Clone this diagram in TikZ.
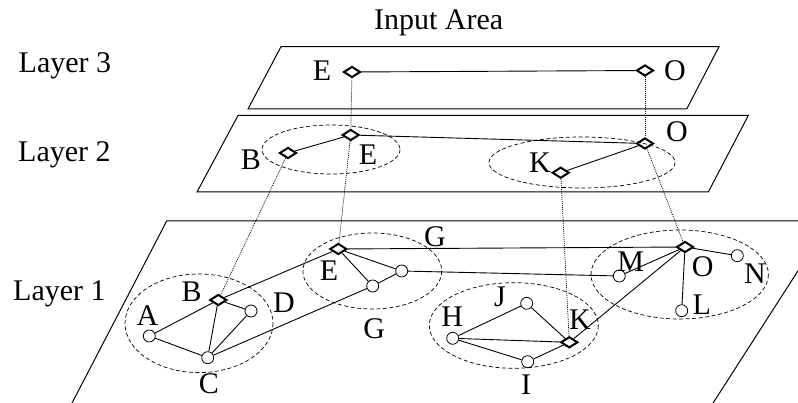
\documentclass[tikz,border=0pt]{standalone}
\usepackage{fontspec}
\setmainfont{Liberation Serif}
\usetikzlibrary{shapes.geometric}
\begin{document}
\begin{tikzpicture}[x=1pt,y=-1pt,
  every node/.style={font=\fontsize{30}{35}\selectfont, inner sep=0pt},
  dnode/.style={draw, diamond, line width=2pt, minimum width=17pt, minimum height=11pt, inner sep=0pt},
  cnode/.style={draw, circle, line width=0.8pt, minimum size=12pt, inner sep=0pt},
  edge/.style={line width=0.9pt},
  link/.style={line width=0.7pt, dash pattern=on 1pt off 1pt},
  group/.style={line width=0.7pt, dash pattern=on 4pt off 2.5pt},
  layer/.style={line width=1pt}]
\useasboundingbox (0,0) rectangle (798,403);

% layers
\draw[layer] (281,46.7) -- (719,46.7) -- (686.7,109) -- (248,109) -- cycle;
\draw[layer] (238,115.5) -- (748.3,115.5) -- (708.3,192) -- (197,192) -- cycle;
\begin{scope}
\clip (0,0) rectangle (798,403);
\draw[layer] (166.7,221) -- (830,221) -- (708.6,410) -- (68.4,410) -- cycle;
\end{scope}

% layer labels
\node[anchor=base west] (t3) at (18.5,72.3) {Layer 3};
\node[anchor=base west] (t2) at (18,161.7) {Layer 2};
\node[anchor=base west] (t1) at (13,300.8) {Layer 1};
\node (inp) at (438.7,22.5) {Input Area};

% group ellipses
\draw[group] (331,149.5) ellipse [x radius=69, y radius=24.5];
\draw[group] (582,162.5) ellipse [x radius=93, y radius=25.5];
\draw[group] (199,323.3) ellipse [x radius=74, y radius=49.3];
\draw[group] (372.3,271) ellipse [x radius=69.4, y radius=38];
\draw[group] (513.8,325.5) ellipse [x radius=84.5, y radius=42.8];
\draw[group] (679.7,274.5) ellipse [x radius=88.7, y radius=44.5];

% layer 3
\node[dnode] (e3) at (352,72) {};
\node[dnode] (o3) at (645,70.5) {};
% layer 2
\node[dnode] (e2) at (350.7,135) {};
\node[dnode] (b2) at (288,153) {};
\node[dnode] (k2) at (560.7,172.7) {};
\node[dnode] (o2) at (645,143.5) {};
% layer 1
\node[dnode] (b1) at (218.3,300) {};
\node[dnode] (e1) at (338.3,249) {};
\node[dnode] (k1) at (569.3,342.3) {};
\node[dnode] (o1) at (685,247) {};
\node[cnode] (a) at (149.3,336) {};
\node[cnode] (c) at (207.7,357.7) {};
\node[cnode] (d) at (251,311) {};
\node[cnode] (g) at (372.7,286) {};
\node[cnode] (g2) at (401.7,271) {};
\node[cnode] (m) at (619.3,276) {};
\node[cnode] (n) at (737.3,255.7) {};
\node[cnode] (l) at (681.7,310.7) {};
\node[cnode] (h) at (452.7,338.3) {};
\node[cnode] (j) at (526.7,303.3) {};
\node[cnode] (i) at (527.7,361.7) {};

% labels
\node (le3) at (322,71) {E};
\node (lo3) at (675,71) {O};
\node (lb2) at (251,160) {B};
\node (le2) at (368,155) {E};
\node (lk2) at (540,163) {K};
\node (lo2) at (677,131.7) {O};
\node (lb1) at (191.7,291.7) {B};
\node (la) at (147.5,315.5) {A};
\node (lc) at (209,384) {C};
\node (ld) at (284,303) {D};
\node (le1) at (329,271) {E};
\node (lg) at (374.3,329) {G};
\node (lgt) at (435,236.7) {G};
\node (lm) at (630.7,261.7) {M};
\node (lo1) at (702.7,266.7) {O};
\node (ln) at (755,273.3) {N};
\node (ll) at (701.7,305) {L};
\node (lj) at (500,297.3) {J};
\node (lh) at (452.3,316.7) {H};
\node (lk1) at (580,320) {K};
\node (li) at (526,385) {I};

% edges
\draw[edge] (e3) -- (o3);
\draw[edge] (b2) -- (e2);
\draw[edge] (e2) -- (o2);
\draw[edge] (k2) -- (o2);
\draw[edge] (a) -- (b1);
\draw[edge] (a) -- (c);
\draw[edge] (b1) -- (c);
\draw[edge] (b1) -- (d);
\draw[edge] (d) -- (c);
\draw[edge] (c) -- (g);
\draw[edge] (b1) -- (e1);
\draw[edge] (e1) -- (g);
\draw[edge] (e1) -- (g2);
\draw[edge] (g) -- (g2);
\draw[edge] (e1) -- (o1);
\draw[edge] (g2) -- (m);
\draw[edge] (o1) -- (m);
\draw[edge] (o1) -- (n);
\draw[edge] (o1) -- (l);
\draw[edge] (o1) -- (k1);
\draw[edge] (h) -- (j);
\draw[edge] (j) -- (k1);
\draw[edge] (h) -- (k1);
\draw[edge] (h) -- (i);
\draw[edge] (i) -- (k1);

% inter-layer links
\draw[link] (e3) -- (e2);
\draw[link] (o3) -- (o2);
\draw[link] (b2) -- (b1);
\draw[link] (e2) -- (e1);
\draw[link] (k2) -- (k1);
\draw[link] (o2) -- (o1);
\end{tikzpicture}
\end{document}
